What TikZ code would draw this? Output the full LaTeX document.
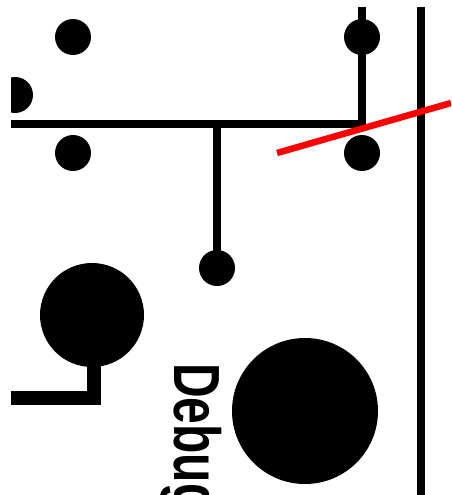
\documentclass[tikz,border=0pt]{standalone}
\usepackage{fontspec}
\setmainfont{Liberation Sans}
\tikzset{
  pad/.style={circle,fill=black,draw=none,inner sep=0pt,minimum size=36pt},
  trace/.style={draw=black,line width=8pt},
  heavy/.style={draw=black,line width=14pt},
  cutline/.style={draw=red,line width=6.5pt}
}
\begin{document}
\begin{tikzpicture}[x=1pt,y=-1pt]
\useasboundingbox (0,0) rectangle (451,495);
\clip (0,0) rectangle (451,495);
\begin{scope}
\clip (11,0) rectangle (451,495);
\node[pad] (p0) at (15,95) {};
\end{scope}
\node[pad] (p1) at (73,37) {};
\node[pad] (p2) at (73,153) {};
\node[pad] (p3) at (362,37) {};
\node[pad] (p4) at (362,153) {};
\node[pad] (p5) at (217,268) {};
\node[pad,minimum size=104pt] (big1) at (92,315) {};
\node[pad,minimum size=146pt] (big2) at (305,411) {};
\coordinate (top) at (362,7);
\coordinate (corner) at (362,124);
\coordinate (left) at (11,124);
\coordinate (branch) at (217,124);
\coordinate (railtop) at (421,7);
\coordinate (railbot) at (421,495);
\coordinate (hs) at (94,330);
\coordinate (hk) at (94,398);
\coordinate (hl) at (11,398);
\coordinate (redA) at (277,153);
\coordinate (redB) at (451,103);
\draw[trace,line join=miter] (left) -- (corner) -- (top);
\draw[trace] (branch) -- (p5.center);
\draw[trace] (railtop) -- (railbot);
\draw[heavy,line join=miter] (hs) -- (hk) -- (hl);
\draw[cutline] (redA) -- (redB);
\node[rotate=-90,anchor=base west,inner sep=0pt] (dbg) at (174,363) {\scalebox{1}[1.36]{\fontsize{48}{48}\selectfont\bfseries Debug}};
\end{tikzpicture}
\end{document}
